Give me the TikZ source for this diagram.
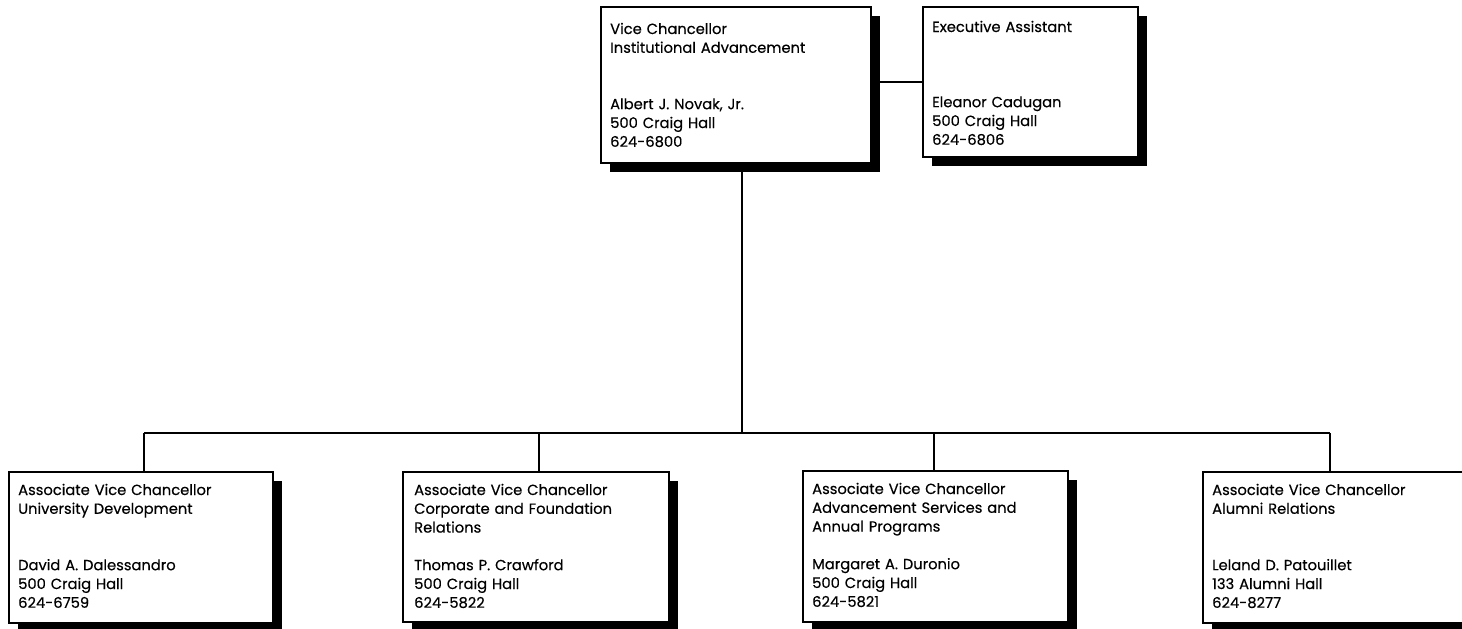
\documentclass[tikz,border=0pt]{standalone}
\usepackage{fontspec}
\setmainfont{Poppins}[UprightFeatures={FakeBold=0.35}]
\usetikzlibrary{shadows}
\tikzset{
  orgbox/.style={draw=black, line width=1.5pt, fill=white, inner sep=0pt,
    drop shadow={shadow xshift=8.5pt, shadow yshift=-9pt, opacity=1, fill=black}},
  orgtext/.style={anchor=base west, inner sep=0pt, text width=250pt, align=left,
    font=\fontsize{14.7}{18.8}\selectfont},
  link/.style={line width=1.5pt, draw=black}
}
\begin{document}
\begin{tikzpicture}[x=1pt, y=-1pt]
\useasboundingbox (0,0) rectangle (1462,629);
% boxes
\node[orgbox, minimum width=270pt, minimum height=156pt] (vc) at (736,85) {};
\node[orgbox, minimum width=215pt, minimum height=150pt] (ea) at (1030.5,82) {};
\node[orgbox, minimum width=264pt, minimum height=151pt] (b1) at (141,547.5) {};
\node[orgbox, minimum width=266pt, minimum height=150pt] (b2) at (536,547) {};
\node[orgbox, minimum width=265pt, minimum height=151pt] (b3) at (935.5,546.5) {};
\node[orgbox, minimum width=265pt, minimum height=151pt] (b4) at (1335.5,547.5) {};
% texts
\node[orgtext] (tvc) at (610,34) {Vice Chancellor\\Institutional Advancement\\[37.6pt]Albert J. Novak, Jr.\\500 Craig Hall\\624-6800};
\node[orgtext] (tea) at (932,32) {Executive Assistant\\[56.4pt]Eleanor Cadugan\\500 Craig Hall\\624-6806};
\node[orgtext] (tb1) at (18,495) {Associate Vice Chancellor\\University Development\\[37.6pt]David A. Dalessandro\\500 Craig Hall\\624-6759};
\node[orgtext] (tb2) at (414,495) {Associate Vice Chancellor\\Corporate and Foundation\\Relations\\[18.8pt]Thomas P. Crawford\\500 Craig Hall\\624-5822};
\node[orgtext] (tb3) at (812,494) {Associate Vice Chancellor\\Advancement Services and\\Annual Programs\\[18.8pt]Margaret A. Duronio\\500 Craig Hall\\624-5821};
\node[orgtext] (tb4) at (1212,495) {Associate Vice Chancellor\\Alumni Relations\\[37.6pt]Leland D. Patouillet\\133 Alumni Hall\\624-8277};
% connectors
\coordinate (bus) at (742,433);
\coordinate (d1) at (144,433);
\coordinate (d2) at (539,433);
\coordinate (d3) at (934,433);
\coordinate (d4) at (1330,433);
\draw[link] (ea.west) -- (ea.west -| vc.east);
\draw[link] (vc.south -| bus) -- (bus);
\draw[link] (d1) -- (d4);
\draw[link] (d1) -- (d1 |- b1.north);
\draw[link] (d2) -- (d2 |- b2.north);
\draw[link] (d3) -- (d3 |- b3.north);
\draw[link] (d4) -- (d4 |- b4.north);
\end{tikzpicture}
\end{document}
